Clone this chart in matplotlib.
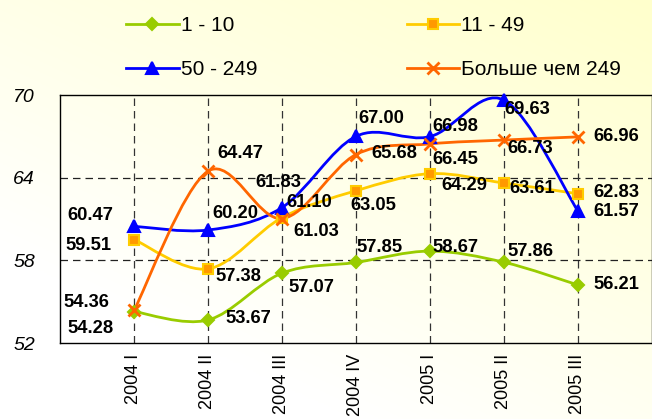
import numpy as np
import matplotlib
matplotlib.use("Agg")
import matplotlib.pyplot as plt
from matplotlib.path import Path
from matplotlib.patches import PathPatch
from matplotlib.lines import Line2D

plt.rcParams['font.family'] = ['Liberation Sans', 'DejaVu Sans']

# данные
quarters = ['2004 I', '2004 II', '2004 III', '2004 IV', '2005 I', '2005 II', '2005 III']
names = ['1 - 10', '11 - 49', '50 - 249', 'Больше чем 249']
s_1_10 = [54.28, 53.67, 57.07, 57.85, 58.67, 57.86, 56.21]
s_11_49 = [59.51, 57.38, 61.10, 63.05, 64.29, 63.61, 62.83]
s_50_249 = [60.47, 60.20, 61.83, 67.00, 66.98, 69.63, 61.57]
s_249 = [54.36, 64.47, 61.03, 65.68, 66.45, 66.73, 66.96]
series = [s_1_10, s_11_49, s_50_249, s_249]

# стиль линий
colors = ['#99CC00', '#FFCC00', '#0000FF', '#FF6600']
markers = ['D', 's', '^', 'x']
mfaces = ['#99CC00', '#FF9900', '#0000FF', '#FF6600']
msizes = [6, 7.5, 8, 8]

# смещения подписей (пиксели)
offsets = [
    [(-43, -17), (40, 1), (29, -14), (24, 15), (25, 4), (26, 11), (38, 0)],
    [(-46, -6), (30, -8), (27, 15), (17, -15), (34, -12), (28, -5), (38, 1)],
    [(-44, 11), (27, 17), (-4, 25), (25, 18), (25, 10), (23, -9), (38, 0)],
    [(-48, 8), (32, 18), (34, -13), (38, 1), (25, -16), (26, -8), (38, 0)],
]


def smooth_path(x, y):
    # сглаженная линия как в Excel (Безье)
    p = np.column_stack([x, y]).astype(float)
    pp = np.vstack([p[0], p, p[-1]])
    verts = [p[0]]
    codes = [Path.MOVETO]
    for i in range(len(p) - 1):
        c1 = pp[i + 1] + (pp[i + 2] - pp[i]) / 6.0
        c2 = pp[i + 2] - (pp[i + 3] - pp[i + 1]) / 6.0
        verts += [c1, c2, pp[i + 2]]
        codes += [Path.CURVE4] * 3
    return Path(verts, codes)


fig = plt.figure(figsize=(6.52, 4.19), dpi=100)

# фон-градиент
bg = fig.add_axes([0, 0, 1, 1], zorder=-10)
gx, gy = np.meshgrid(np.linspace(0, 1, 200), np.linspace(0, 1, 200))
t = np.clip((1 - gx) * 0.55 + gy * 0.75, 0, 1)
c0 = np.array([1.0, 1.0, 0.80])
c1 = np.array([1.0, 1.0, 1.0])
img = c0[None, None, :] * (1 - t[..., None]) + c1[None, None, :] * t[..., None]
bg.imshow(img, extent=[0, 1, 0, 1], aspect='auto', origin='upper')
bg.axis('off')

ax = fig.add_axes([60 / 652, 76 / 419, 592 / 652, 248 / 419])
ax.set_facecolor('none')
x = np.arange(len(quarters))

for k, s in enumerate(series):
    patch = PathPatch(smooth_path(x, s), facecolor='none', edgecolor=colors[k],
                      lw=2.0, zorder=3)
    ax.add_patch(patch)
    ax.plot(x, s, ls='none', marker=markers[k], ms=msizes[k],
            mfc=mfaces[k], mec=colors[k], mew=2 if markers[k] == 'x' else 1.5,
            zorder=4, clip_on=False)
    for i, v in enumerate(s):
        ax.annotate(f'{v:.2f}', (x[i], v), xytext=offsets[k][i],
                    textcoords='offset pixels', ha='center', va='center',
                    fontsize=13.2, fontweight='bold', color='black',
                    annotation_clip=False, zorder=5)

ax.set_xlim(-1, 7)
ax.set_ylim(52, 70)
ax.set_yticks([52, 58, 64, 70])
ax.set_yticklabels(['52', '58', '64', '70'], fontstyle='italic', fontsize=14)
ax.set_xticks(x)
ax.set_xticklabels(quarters, rotation=90, va='top', ha='center', fontsize=13)
ax.tick_params(axis='y', length=0, pad=18)
ax.tick_params(axis='x', length=0, pad=8)

for v in [58, 64]:
    ax.axhline(v, color='#222222', lw=0.9, ls=(0, (6, 4)), zorder=1)
for xi in x:
    ax.axvline(xi, color='#333333', lw=0.9, ls=(0, (6, 4)), zorder=1)

for sp in ax.spines.values():
    sp.set_color('black')
    sp.set_linewidth(1.0)

handles = []
for k in range(4):
    handles.append(Line2D([], [], color=colors[k], lw=2.0, marker=markers[k],
                          ms=msizes[k], mfc=mfaces[k], mec=colors[k],
                          mew=2 if markers[k] == 'x' else 1.5))
order = [0, 2, 1, 3]
fig.legend([handles[i] for i in order], [names[i] for i in order],
           loc='upper left', bbox_to_anchor=(116 / 652, 1 - 6 / 419), ncol=2,
           frameon=False, fontsize=15, handlelength=2.5, handletextpad=0.1,
           labelspacing=1.2, columnspacing=7.2, borderpad=0)

fig.savefig('out.png', dpi=100)
